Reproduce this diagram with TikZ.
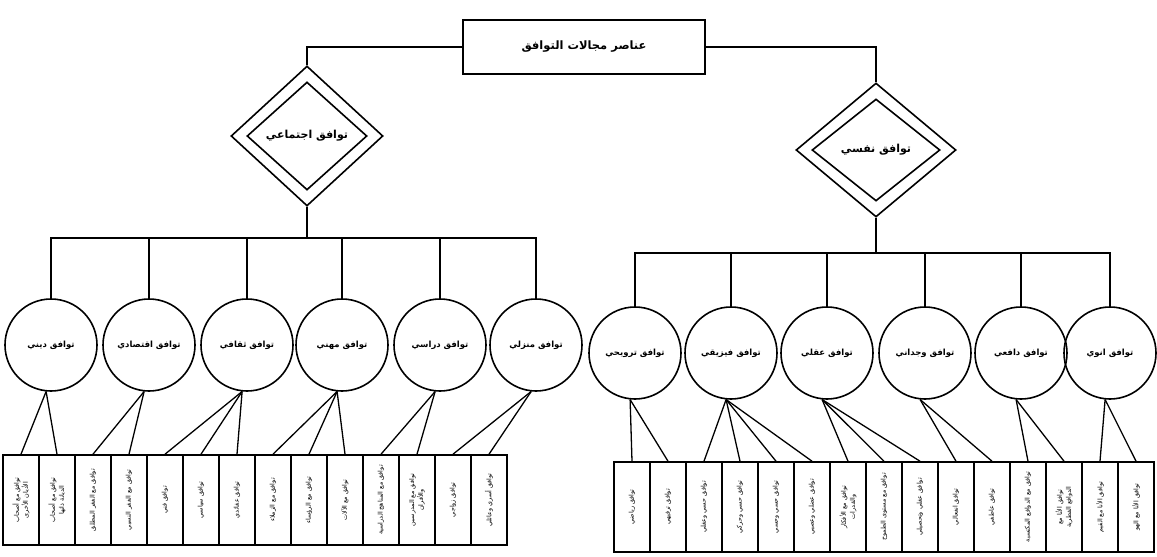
\documentclass[tikz,border=0pt]{standalone}
\usepackage{fontspec}
\usetikzlibrary{shapes.geometric}
\newfontfamily\arabicfont[Script=Arabic]{DejaVu Sans}
\TeXXeTstate=1
\newcommand{\AR}[1]{\beginR #1\endR}

\begin{document}
\begin{tikzpicture}[x=1pt,y=-1pt,
  conn/.style={line width=1.3pt},
  titlebox/.style={draw,line width=1.7pt,minimum width=242pt,minimum height=54pt,inner sep=0pt,
    font=\arabicfont\bfseries\fontsize{11.5}{13}\selectfont},
  outerdia/.style={draw,diamond,line width=1.6pt,inner sep=0pt},
  innerdia/.style={draw,diamond,line width=1.6pt,inner sep=0pt,
    font=\arabicfont\bfseries\fontsize{11}{13}\selectfont},
  circ/.style={draw,circle,line width=1.6pt,minimum size=92pt,inner sep=0pt,
    font=\arabicfont\bfseries\fontsize{8.5}{10}\selectfont},
  leaf/.style={draw,line width=1.6pt,rotate=90,minimum width=90pt,minimum height=36pt,inner sep=0pt,
    align=center,font=\arabicfont\fontsize{6.4}{9}\selectfont}
]
\useasboundingbox[fill=white] (0,0) rectangle (1157,557);

% title
\node[titlebox] (top) at (584,47) {\AR{عناصر مجالات التوافق}};

% diamonds
\node[outerdia,minimum width=152pt,minimum height=140pt] (ldo) at (307,136) {};
\node[innerdia,minimum width=120pt,minimum height=108pt] (ldi) at (307,136) {\AR{توافق اجتماعي}};
\node[outerdia,minimum width=160pt,minimum height=134pt] (rdo) at (876,150) {};
\node[innerdia,minimum width=128pt,minimum height=102pt] (rdi) at (876,150) {\AR{توافق نفسي}};

\draw[conn] (top.west) -| (ldo.north);
\draw[conn] (top.east) -| (rdo.north);

% left circles
\node[circ] (c1) at (51,345)  {\AR{توافق ديني}};
\node[circ] (c2) at (149,345) {\AR{توافق اقتصادي}};
\node[circ] (c3) at (247,345) {\AR{توافق ثقافي}};
\node[circ] (c4) at (342,345) {\AR{توافق مهني}};
\node[circ] (c5) at (440,345) {\AR{توافق دراسي}};
\node[circ] (c6) at (536,345) {\AR{توافق منزلي}};

% right circles
\node[circ] (d1) at (635,353)  {\AR{توافق ترويحي}};
\node[circ] (d2) at (731,353)  {\AR{توافق فيزيقي}};
\node[circ] (d3) at (827,353)  {\AR{توافق عقلي}};
\node[circ] (d4) at (925,353)  {\AR{توافق وجداني}};
\node[circ] (d5) at (1021,353) {\AR{توافق دافعي}};
\node[circ] (d6) at (1110,353) {\AR{توافق انوي}};

% bars
\coordinate (lbar) at (307,238);
\coordinate (rbar) at (876,253);
\draw[conn] (ldo.south) -- (lbar);
\draw[conn] (c1.north) |- (lbar) -| (c6.north);
\foreach \n in {c2,c3,c4,c5} \draw[conn] (\n.north) -- (\n.north |- lbar);
\draw[conn] (rdo.south) -- (rbar);
\draw[conn] (d1.north) |- (rbar) -| (d6.north);
\foreach \n in {d2,d3,d4,d5} \draw[conn] (\n.north) -- (\n.north |- rbar);

% left leaf boxes
\node[leaf] (L1)  at (21,500)  {\AR{توافق مع أصحاب}\\\AR{الأديان الأخرى}};
\node[leaf] (L2)  at (57,500)  {\AR{توافق مع أصحاب}\\\AR{الديانة ذاتها}};
\node[leaf] (L3)  at (93,500)  {\AR{توافق مع الفقر المطلق}};
\node[leaf] (L4)  at (129,500) {\AR{توافق مع الفقر النسبي}};
\node[leaf] (L5)  at (165,500) {\AR{توافق فني}};
\node[leaf] (L6)  at (201,500) {\AR{توافق سياسي}};
\node[leaf] (L7)  at (237,500) {\AR{توافق عقائدي}};
\node[leaf] (L8)  at (273,500) {\AR{توافق مع الزملاء}};
\node[leaf] (L9)  at (309,500) {\AR{توافق مع الرؤساء}};
\node[leaf] (L10) at (345,500) {\AR{توافق مع الآلات}};
\node[leaf] (L11) at (381,500) {\AR{توافق مع المناهج الدراسية}};
\node[leaf] (L12) at (417,500) {\AR{توافق مع المدرسين}\\\AR{والأقران}};
\node[leaf] (L13) at (453,500) {\AR{توافق زواجي}};
\node[leaf] (L14) at (489,500) {\AR{توافق أسري وعائلي}};

% right leaf boxes
\node[leaf] (R1)  at (632,507)  {\AR{توافق رياضي}};
\node[leaf] (R2)  at (668,507)  {\AR{توافق ترفيهي}};
\node[leaf] (R3)  at (704,507)  {\AR{توافق حسي وعقلي}};
\node[leaf] (R4)  at (740,507)  {\AR{توافق حسي وحركي}};
\node[leaf] (R5)  at (776,507)  {\AR{توافق حسي وحسي}};
\node[leaf] (R6)  at (812,507)  {\AR{توافق عضلي وعصبي}};
\node[leaf] (R7)  at (848,507)  {\AR{توافق مع الأفكار}\\\AR{والقدرات}};
\node[leaf] (R8)  at (884,507)  {\AR{توافق مع مستوى الطموح}};
\node[leaf] (R9)  at (920,507)  {\AR{توافق عقلي وتحصيلي}};
\node[leaf] (R10) at (956,507)  {\AR{توافق انفعالي}};
\node[leaf] (R11) at (992,507)  {\AR{توافق عاطفي}};
\node[leaf] (R12) at (1028,507) {\AR{توافق مع الدوافع المكتسبة}};
\node[leaf] (R13) at (1064,507) {\AR{توافق الأنا مع}\\\AR{الدوافع الفطرية}};
\node[leaf] (R14) at (1100,507) {\AR{توافق الأنا مع القيم}};
\node[leaf] (R15) at (1136,507) {\AR{توافق الأنا مع الهو}};

% connectors circles -> leaves (leaf top = .east after rotation)
\foreach \c/\ls in {c1/{L1,L2},c2/{L3,L4},c3/{L5,L6,L7},c4/{L8,L9,L10},c5/{L11,L12},c6/{L13,L14},
                    d1/{R1,R2},d2/{R3,R4,R5,R6},d3/{R7,R8,R9},d4/{R10,R11},d5/{R12,R13},d6/{R14,R15}}
  \foreach \l in \ls \draw[conn] (\c.-96) -- (\l.east);
\end{tikzpicture}
\end{document}
